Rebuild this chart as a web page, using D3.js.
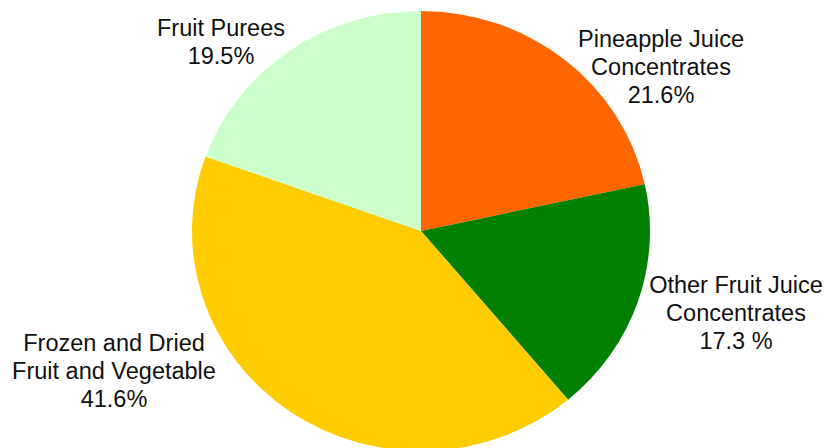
<!DOCTYPE html>
<html>
<head>
<meta charset="utf-8">
<script src="https://cdn.jsdelivr.net/npm/d3@7/dist/d3.min.js"></script>
<style>
  html, body { margin: 0; padding: 0; background: #fff; }
  svg { display: block; }
  text { font-family: "Liberation Sans", Arial, sans-serif; }
</style>
</head>
<body>
<svg id="chart" width="829" height="448"></svg>
<script>
// Shares of imports by product group (percent), clockwise from 12 o'clock
const categories = [
  ["Pineapple Juice", "Concentrates"],
  ["Other Fruit Juice", "Concentrates"],
  ["Frozen and Dried", "Fruit and Vegetable"],
  ["Fruit Purees"]
];
const values = [21.6, 17.3, 41.6, 19.5];
const percentSeparators = ["", " ", "", ""];

// Presentation
const sliceColors = ["#FF6600", "#008000", "#FFCC00", "#CCFFCC"];
const labelAnchors = [[661, 47], [736, 293], [114, 351], [221, 36]];
const W = 829, H = 448;
const cx = 421, cy = 231, rx = 229, ry = 220;
const fontSize = 23.5, lineGap = 28;

const svg = d3.select("#chart");

const pie = d3.pie().sort(null).value(d => d)
  .startAngle(0).endAngle(2 * Math.PI);
const arcs = pie(values);
const arc = d3.arc().innerRadius(0).outerRadius(rx);

const g = svg.append("g")
  .attr("transform", `translate(${cx},${cy}) scale(1,${ry / rx})`);

g.selectAll("path")
  .data(arcs)
  .join("path")
  .attr("d", arc)
  .attr("fill", (d, i) => sliceColors[i]);

const fmt = d3.format(".1f");
const labels = svg.selectAll("text.label")
  .data(arcs)
  .join("text")
  .attr("class", "label")
  .attr("text-anchor", "middle")
  .attr("font-size", fontSize)
  .attr("fill", "#111");

labels.each(function(d, i) {
  const t = d3.select(this);
  const [x, y] = labelAnchors[i];
  const lines = categories[i].concat([fmt(d.data) + percentSeparators[i] + "%"]);
  lines.forEach((line, j) => {
    t.append("tspan").attr("x", x).attr("y", y + j * lineGap).text(line);
  });
});
</script>
</body>
</html>
